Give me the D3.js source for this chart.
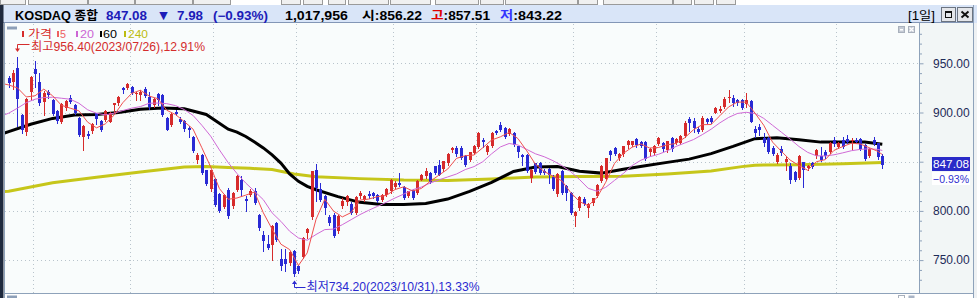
<!DOCTYPE html>
<html>
<head>
<meta charset="utf-8">
<script src="https://cdn.jsdelivr.net/npm/d3@7"></script>
<style>
  html, body { margin: 0; padding: 0; background: #fff; overflow: hidden; }
  svg { display: block; font-family: "Liberation Sans", "Noto Sans CJK KR", sans-serif; }
</style>
</head>
<body>
<svg id="chart" width="977" height="298"></svg>
<script>
// KOSDAQ daily candles, oldest first
var opens = [
  935,931.4,944.9,897.6,879.7,921.3,944.2,930.7,911.1,921.3,
  912.8,901.6,890.8,904.4,914.5,907.7,894.2,875,878.3,880.7,
  899.3,891.8,892.5,890.8,907.7,909.4,924.6,925.3,925.6,918.5,
  917.9,923.6,915.5,907.7,918.6,917.9,894.9,887.5,901,893.2,
  891.5,884,875,851.3,857.1,841.9,822.6,832.4,817.5,804,
  821.6,804.7,821.6,831.7,812.5,816.5,819.9,796.2,775.9,766.5,
  765.8,787.8,751.4,750.7,746.6,759,743.9,753.4,777.6,793.5,
  841.9,822.3,814.9,793.5,796.2,779.4,804.7,808.8,807.4,798,
  814.9,811.5,817.5,818.2,815.9,811.5,816.5,819.9,824.3,828.4,
  824,815.5,821,818.2,831.7,835.1,838.5,845.2,846.9,842.5,
  848.7,861.4,864,863.8,856,851.3,858.7,864.8,872.3,859.4,
  866.2,880.8,887.6,884.2,878,879.1,865.5,857,857,833.2,
  848.5,848.5,841,842.4,834.2,817.2,840.7,825.4,818,794.9,
  802.6,812.5,802.6,807.7,815.5,830.5,832.2,860.4,863.8,853.6,
  858,867.2,867.2,873,869.6,870,859.4,858.7,868.2,868.9,
  861.8,874,868.6,869.2,876.3,893,891,883.5,882,893.2,
  894.5,899.5,901.5,905.3,914.3,914.5,912.8,912.8,908.5,912,
  883.2,885.7,873.8,873.8,864,849.8,862.7,849.2,845.8,840,
  833,849.2,843.4,848.5,855.5,855.9,860.3,860.3,872.5,865,
  872.1,873.3,870.8,872.5,872.8,867,855.9,872.1,868.8,856.22
];
var highs = [
  937,943.2,956.4,898.5,914.5,937.5,952.3,939.8,921.5,923,
  914,902.7,909.4,913,917.9,909,895,887.5,880.7,889,
  900,892.5,902.5,901,910,917,925.6,929.7,926.5,921.3,
  923,926.3,921.3,914.5,919.6,918.9,895.5,899.3,902.7,895.9,
  892,885.8,876,858.7,858,842,842,833,818,817,
  823,819,836.5,835,814.9,822,823,797,779.3,776,
  786,788.5,760.8,760.8,759,760,745,773.5,782.5,841,
  847.6,828.4,816.5,796.2,798,796,813,816.5,809,815.5,
  819.9,816,819.9,819,817,817.5,823,832.4,830,838.5,
  825,820.5,822,831.5,837.5,843.5,840,846,852,851,
  859,865,865.5,866,857,860,867,880,874,867,
  880,882,890.7,885,884,880,866,858,858,843,
  849,850,843,844,836,838.5,842,826,819,800,
  815,814,808,813.5,827,846.5,854,861.5,864.5,859,
  866,872.3,871.5,874,871,871,864,866.5,875,869.6,
  871.5,875,874,877,891,895,894,885,896,894.5,
  896,906,906.3,915.5,922.9,918,914,914,920,913,
  885.8,888.5,879,875,866,858.5,866,855.4,848.6,841,
  857,850,847,850,863,865,862,870,874.9,870,
  874.9,877.3,874,874,874,868,864,874.9,869.5,857.51
];
var lows = [
  926,923.6,885.8,879,877.3,913,926.3,907.7,897.6,915,
  897.6,889.2,889.2,903,909.4,898,876,862.2,874,879,
  888.5,881,891,890,901,908,920.2,923.6,918.5,912.8,
  912.8,916.2,903.3,906,907.7,896,882,886,897.6,889.8,
  880.7,875,860,848.6,837,826,820,805,799,803,
  793,803,820.5,815.5,799.6,815,807,781,759,761.4,
  750,769,739.9,738.8,745,734.2,737,752,772,792,
  809.8,809.8,797.3,786,773.5,778,803,806.4,797,797,
  813,810,813.2,813,809,810.5,815.5,818,823,825,
  812,814.5,812.5,817.5,831,833,828,837,836,841,
  847,860,856,852.5,846,850.5,858,864,865,858,
  865,878,881,874,877,866,855,847,840,829,
  839,838,837,828,821,815.5,817,811,797,785,
  801,806,794,806,814,829,831,852,857,852,
  856,864,866,865,865,852,856,857,867,861,
  860,861,868,868,875,880.8,880,879,881,889,
  889,899,901,905,910.5,906.5,908,904,906,890,
  875,877.3,866,859,857,849,857,842,828.5,830,
  832,824,842,844,854,851,853.6,859,866.2,864,
  864,868.9,862.8,869,862,852,855,867.2,853,843.22
];
var closes = [
  930,939.8,913.5,882.4,913.5,936.5,939.2,909.4,920.2,917.9,
  898.3,891.8,908.7,912.1,911.1,899.3,877.3,886.5,876.3,888.5,
  893.2,882.4,901.6,900,909.4,916.2,923,928.7,919.6,920.2,
  921.3,916.9,905.4,913.5,912.8,897.6,882.4,898.6,898.3,890.8,
  883.4,882.4,860.5,856.4,838.5,827.3,841.2,806.4,800.3,816.5,
  794.6,818.2,835.8,821.6,809.8,820.6,808.1,782.8,769.2,762.4,
  785.1,770.3,743.9,746.3,758,735.5,738.9,772.6,781.6,840.2,
  823.3,810.8,803,787.8,774.3,794.6,809.8,814.9,798,813.9,
  818.2,814.9,814.9,814.9,809.8,816.5,822.3,831.7,828.4,826.7,
  813.2,819.9,813.2,830.7,836.8,840.2,829,838.5,836.8,850.3,
  858.1,863.8,858,853.6,846.9,859.4,866.2,879,869.6,866.2,
  879.1,879.1,882.5,875,883.2,867.2,859.4,854.6,841,841.7,
  840,839,838.3,836.6,822,837.6,818,818,798.2,799.2,
  814.5,807,807,812.8,826.4,845.8,853.6,857,858,858,
  865.5,871.3,870.6,866.5,866.2,853,863.1,865.5,874,862.8,
  871,862.5,872.9,876,889.5,889,884,880,894.5,890,
  890,905,903.5,914,916,910,909.3,904.5,912.8,890.7,
  879.6,882.3,869.5,859.8,858.2,857,858.6,853,831.8,831.9,
  855.9,841.3,845.7,845,862,851.8,856,869.5,868.1,868.7,
  864.7,869.9,872.4,869.9,862.8,853.1,863.1,868.4,855.06,847.08
];
var volume = 1017956;
var highDate = "2023/07/26";
var lowDate = "2023/10/31";
// candle index of the first trading day of each month
var monthStarts = [6, 28, 47, 66, 88, 107, 129, 148, 168, 189];
var priceTicks = [750, 800, 850, 900, 950];

// moving averages as [candle index, value]
var ma5 = [[-1,929],[0,928],[2,925],[4,915.8],[6,917],[8,923.8],[10,917],[12,907.4],[14,904.4],[16,901.7],[18,890.1],
  [20,884.4],[22,888.4],[24,897.3],[26,910],[28,919.4],[30,922.6],[32,916.7],[34,914],[36,902.3],[38,897.9],
  [40,890.7],[42,883.1],[44,864.2],[46,844.8],[48,822.7],[50,811.8],[52,813.1],[54,816],[56,819.2],[58,798.1],
  [60,781.5],[62,766.2],[64,760.7],[66,744.5],[68,757.3],[70,791.3],[72,811.8],[74,799.8],[76,793.9],[78,798.3],
  [80,811],[82,812],[84,814.5],[86,815.7],[88,821.7],[90,824.5],[92,820.3],[94,822.8],[96,830],[98,836.3],
  [100,842.5],[102,853.4],[104,856.1],[106,856.8],[108,864.2],[110,872],[112,875.3],[114,879.8],[116,873.5],[118,861.1],
  [120,847.3],[122,840],[124,835.2],[126,830.5],[128,818.8],[130,809.6],[132,805.2],[134,813.5],[136,829.1],[138,848.2],
  [140,858.4],[142,864.7],[144,868],[146,863.9],[148,864.4],[150,867.2],[152,868.5],[154,874.4],[156,882.5],[158,887.6],
  [160,887.8],[162,896.7],[164,905.7],[166,910.6],[168,910.5],[170,899.4],[172,887],[174,869.9],[176,860.6],[178,851.7],
  [180,846.2],[182,841.3],[184,850],[186,852.1],[188,861.5],[190,865.4],[192,868.8],[194,868],[196,864.3],[198,860.5],[199,857.3]];
var ma20 = [[-1,897.6],[0,899.3],[2,904.4],[4,910],[6,913.5],[8,915.2],[10,915.5],[12,914.5],[14,913.5],[16,909.4],[18,902.7],
  [20,899.3],[22,897.6],[24,899.3],[26,902],[28,904.4],[30,906],[32,909.4],[34,909.6],[36,909],[38,907],
  [40,903],[42,897],[44,887],[46,876],[48,862],[50,849],[52,838],[54,828.3],[56,819.9],[58,811.4],
  [60,798],[62,789.4],[64,779.3],[66,772.5],[68,770.2],[70,776],[72,781],[74,781.5],[76,786],[78,791.1],
  [80,796.2],[82,800.6],[84,804.6],[86,808.7],[88,813.1],[90,817.1],[92,821.5],[94,824.2],[96,828.3],[98,831.5],
  [100,834.5],[102,837.5],[104,842],[106,845],[108,850],[110,858],[112,865],[114,868.5],[116,867],[118,862.5],
  [120,858],[122,855],[124,851],[126,846],[128,840],[130,832],[132,823],[134,820],[136,824],[138,831],
  [140,838],[142,846],[144,851.5],[146,855],[148,857.5],[150,861],[152,865.5],[154,869],[156,872.5],[158,877.5],
  [160,883],[162,889.5],[164,895],[166,899],[168,900.2],[170,899],[172,894],[174,887],[176,880],[178,873],
  [180,865.5],[182,859.5],[184,856],[186,855.8],[188,857],[190,859],[192,861.2],[194,862.5],[196,863.1],[198,862.5],[199,861.4]];
var ma60 = [[-1,879],[0,880.5],[5,888],[10,894],[15,897.5],[20,898],[25,900],[30,903.3],[35,904.6],[40,903.7],[45,898],
  [50,883],[52,880],[54,875.6],[56,870],[58,864],[60,857],[62,848.6],[64,837.5],[66,830],[68,825],[70,821.5],
  [75,814.5],[80,808.7],[85,806.6],[90,806.5],[95,807.6],[100,812],[105,819.9],[110,829],[115,840.1],[120,844.5],
  [125,845.2],[130,840.3],[135,838.4],[140,842.3],[145,845.9],[150,849.3],[155,852.6],[160,858.2],[165,865.5],[170,873.4],
  [175,874.3],[180,872.2],[185,869.9],[190,869.9],[195,870],[199,867.8]];
var ma240 = [[-1,819.6],[0,820],[10,828.5],[20,834.3],[30,839.5],[40,844.5],[45,845],[50,844],[55,843.3],[60,842],
  [65,837.5],[70,834.7],[80,832.8],[90,831.3],[100,831],[110,832.5],[120,834.5],[130,835],[140,835.2],[150,837.5],
  [160,840.5],[167,845],[170,846.5],[180,847],[190,848],[199,849.3]];

addEventListener("load", function () {
  draw();
});

function draw() {
  var svg = d3.select("#chart");
  var n = closes.length;
  var last = n - 1;
  var x = d3.scaleLinear().domain([0, last]).range([8.7, 882.3]);
  var y = d3.scaleLinear().domain([750, 950]).range([260.1, 63.3]);
  var fmt = d3.format(".2f");
  var up = "#d62b2b", down = "#2a2ad4", frame = "#8ea2ba";
  var close = closes[last];
  var ly = Math.round(y(close));

  // toolbar strip at the very top
  var tools = [[0,25],[28,87],[88,134],[135,192],[193,230],[281,300],[303,322],[328,345],[348,388],
    [390,430],[435,478],[480,503],[505,577],[578,597],[603,672],[673,691],[694,713],[716,735]];
  svg.selectAll("rect.tool").data(tools).enter().append("rect")
    .attr("x", function (d) { return d[0] + 0.5; })
    .attr("y", -3.5)
    .attr("width", function (d) { return d[1] - d[0]; })
    .attr("height", 8)
    .attr("fill", "#f0f0f0")
    .attr("stroke", "#9a9a9a");

  // title bar
  svg.append("rect").attr("x", 0).attr("y", 5).attr("width", 977).attr("height", 18).attr("fill", "#d9e5f8");
  svg.append("line").attr("x1", 0).attr("x2", 974).attr("y1", 22.5).attr("y2", 22.5).attr("stroke", "#8396b6");

  // plot and axis panels
  svg.append("rect").attr("x", 5).attr("y", 23).attr("width", 914).attr("height", 270).attr("fill", "#f9fcfc");
  svg.append("rect").attr("x", 919).attr("y", 23).attr("width", 54).attr("height", 270).attr("fill", "#f2f6f6");
  svg.append("rect").attr("x", 973).attr("y", 23).attr("width", 4).attr("height", 275).attr("fill", "#eef1f3");
  svg.append("rect").attr("x", 0).attr("y", 5).attr("width", 3.5).attr("height", 293).attr("fill", "#1f2a3e");
  svg.append("line").attr("x1", 4.5).attr("x2", 4.5).attr("y1", 23).attr("y2", 298).attr("stroke", frame);
  svg.append("line").attr("x1", 919.5).attr("x2", 919.5).attr("y1", 23).attr("y2", 293).attr("stroke", frame);
  svg.append("line").attr("x1", 973.5).attr("x2", 973.5).attr("y1", 5).attr("y2", 298).attr("stroke", frame);
  svg.append("line").attr("x1", 4).attr("x2", 974).attr("y1", 293.5).attr("y2", 293.5).attr("stroke", frame);

  // grid
  var grid = svg.append("g").attr("stroke", "#b9c4cc").attr("stroke-dasharray", "1,3");
  grid.selectAll("line.h").data(priceTicks).enter().append("line")
    .attr("x1", 5).attr("x2", 919)
    .attr("y1", function (d) { return Math.round(y(d)) + 0.5; })
    .attr("y2", function (d) { return Math.round(y(d)) + 0.5; });
  grid.selectAll("line.v").data(monthStarts).enter().append("line")
    .attr("x1", function (d) { return Math.round(x(d) - 2) + 0.5; })
    .attr("x2", function (d) { return Math.round(x(d) - 2) + 0.5; })
    .attr("y1", 24).attr("y2", 293);

  // price axis; the label under the last price tag is hidden by it
  var minor = d3.range(730, 1000, 10).filter(function (v) {
    return priceTicks.indexOf(v) < 0 && y(v) > 24 && y(v) < 292;
  });
  var gMinor = svg.append("g").attr("transform", "translate(919.5,0)")
    .call(d3.axisRight(y).tickValues(minor).tickSize(2.5).tickFormat(""));
  gMinor.select(".domain").remove();
  gMinor.selectAll("line").attr("stroke", frame);
  var gAxis = svg.append("g").attr("transform", "translate(919.5,0)")
    .call(d3.axisRight(y).tickValues(priceTicks).tickSize(4).tickPadding(9.5).tickFormat(fmt));
  gAxis.select(".domain").remove();
  gAxis.attr("font-family", null).attr("font-size", 12);
  gAxis.selectAll("line").attr("stroke", frame);
  gAxis.selectAll("text").attr("fill", "#1e2b58");
  gAxis.selectAll(".tick").filter(function (d) { return Math.abs(y(d) - ly) < 22; })
    .select("text").remove();

  // series
  var clip = svg.append("defs").append("clipPath").attr("id", "plotclip");
  clip.append("rect").attr("x", 5).attr("y", 23).attr("width", 914).attr("height", 270);
  var plot = svg.append("g").attr("clip-path", "url(#plotclip)");
  var line = d3.line()
    .x(function (d) { return x(d[0]); })
    .y(function (d) { return y(d[1]); });

  plot.append("path").datum(ma240).attr("d", line)
    .attr("fill", "none").attr("stroke", "#c6c61a").attr("stroke-width", 3);
  plot.append("path").datum(ma60).attr("d", line)
    .attr("fill", "none").attr("stroke", "#000").attr("stroke-width", 3);

  var idx = d3.range(n);
  var color = function (i) { return closes[i] >= opens[i] ? up : down; };
  plot.selectAll("line.wick").data(idx).enter().append("line")
    .attr("x1", function (i) { return Math.round(x(i)) + 0.5; })
    .attr("x2", function (i) { return Math.round(x(i)) + 0.5; })
    .attr("y1", function (i) { return Math.round(y(highs[i])); })
    .attr("y2", function (i) { return Math.round(y(lows[i])) + 1; })
    .attr("stroke", color);
  plot.selectAll("rect.body").data(idx).enter().append("rect")
    .attr("x", function (i) { return Math.round(x(i)) - 1; })
    .attr("width", 3)
    .attr("y", function (i) { return Math.round(y(Math.max(opens[i], closes[i]))); })
    .attr("height", function (i) {
      var top = Math.round(y(Math.max(opens[i], closes[i])));
      var bot = Math.round(y(Math.min(opens[i], closes[i])));
      return Math.max(1, bot - top);
    })
    .attr("fill", color);

  plot.append("path").datum(ma20).attr("d", line)
    .attr("fill", "none").attr("stroke", "#d06ad6").attr("stroke-width", 1);
  plot.append("path").datum(ma5).attr("d", line)
    .attr("fill", "none").attr("stroke", "#f05050").attr("stroke-width", 1);

  // high / low notes
  var hi = d3.maxIndex(highs), lo = d3.minIndex(lows);
  var hx = Math.round(x(hi)) + 0.5;
  svg.append("path").attr("d", "M" + (hx + 12) + ",44.5H" + hx + "V49")
    .attr("fill", "none").attr("stroke", "#d42c2c");
  svg.append("path").attr("d", "M" + (hx - 2.5) + ",48.5L" + (hx + 2.5) + ",48.5L" + hx + ",52Z").attr("fill", "#d42c2c");
  svg.append("text").attr("x", 31).attr("y", 51).attr("fill", "#d42c2c").attr("font-size", 12)
    .attr("textLength", 174).attr("lengthAdjust", "spacingAndGlyphs")
    .text("최고" + fmt(highs[hi]) + "(" + highDate + ")," + fmt((highs[hi] - close) / close * 100) + "%");
  var lx = Math.round(x(lo)) + 0.5;
  svg.append("path").attr("d", "M" + lx + ",283V287.5H" + (lx + 11))
    .attr("fill", "none").attr("stroke", "#2a2ad0");
  svg.append("path").attr("d", "M" + (lx - 2.5) + ",284L" + (lx + 2.5) + ",284L" + lx + ",280.5Z").attr("fill", "#2a2ad0");
  svg.append("text").attr("x", 306.5).attr("y", 290.5).attr("fill", "#2a2ad0").attr("font-size", 12)
    .attr("textLength", 173).attr("lengthAdjust", "spacingAndGlyphs")
    .text("최저" + fmt(lows[lo]) + "(" + lowDate + ")," + fmt((close - lows[lo]) / close * 100) + "%");

  // legend
  var legend = [
    {t: "가격", c: "#d62b2b", bx: 22, tx: 28, w: 24},
    {t: "5", c: "#ee6060", bx: 57, tx: 60, w: 6},
    {t: "20", c: "#cc66d4", bx: 76, tx: 80, w: 14},
    {t: "60", c: "#000", bx: 100, tx: 103, w: 14},
    {t: "240", c: "#bcbc10", bx: 124, tx: 128, w: 20}
  ];
  svg.append("rect").attr("x", 7).attr("y", 26.5).attr("width", 10).attr("height", 3).attr("fill", "#8d9fb8");
  svg.selectAll("rect.leg").data(legend).enter().append("rect")
    .attr("x", function (d) { return d.bx; }).attr("y", 31).attr("width", 2).attr("height", 6)
    .attr("fill", function (d) { return d.c; });
  svg.selectAll("text.leg").data(legend).enter().append("text")
    .attr("x", function (d) { return d.tx; }).attr("y", 38)
    .attr("font-size", 11)
    .attr("textLength", function (d) { return d.w; }).attr("lengthAdjust", "spacingAndGlyphs")
    .attr("fill", function (d) { return d.c; })
    .text(function (d) { return d.t; });

  // panel buttons
  svg.append("rect").attr("x", 898.5).attr("y", 26.5).attr("width", 6).attr("height", 6).attr("fill", "#c4cad4").attr("stroke", "#a8b0bc");
  svg.append("rect").attr("x", 900).attr("y", 29).attr("width", 3).attr("height", 1.5).attr("fill", "#fff");
  svg.append("rect").attr("x", 908.5).attr("y", 26.5).attr("width", 6).attr("height", 6).attr("fill", "#c4cad4").attr("stroke", "#a8b0bc");
  svg.append("path").attr("d", "M909.5,27.5L913.5,31.5M913.5,27.5L909.5,31.5").attr("stroke", "#fff").attr("stroke-width", 1.2);
  svg.append("rect").attr("x", 898.5).attr("y", 295.5).attr("width", 6).attr("height", 5).attr("fill", "#fff").attr("stroke", "#a8b0bc");
  svg.append("rect").attr("x", 908.5).attr("y", 295.5).attr("width", 6).attr("height", 5).attr("fill", "#a8b4c6");
  svg.append("rect").attr("x", 7).attr("y", 295.5).attr("width", 10).attr("height", 3).attr("fill", "#8d9fb8");

  // last price tag
  var chg = close - closes[last - 1];
  var pct = chg / closes[last - 1] * 100;
  svg.append("rect").attr("x", 932).attr("y", ly - 8).attr("width", 38).attr("height", 14).attr("fill", "#2a2ac8");
  svg.append("text").attr("x", 933).attr("y", ly + 3).attr("fill", "#fff").attr("font-size", 11.5)
    .attr("textLength", 36).attr("lengthAdjust", "spacingAndGlyphs").text(fmt(close));
  svg.append("rect").attr("x", 932).attr("y", ly + 7).attr("width", 38).attr("height", 13).attr("fill", "#fff");
  svg.append("text").attr("x", 933).attr("y", ly + 18).attr("fill", "#3030d0").attr("font-size", 11.5)
    .attr("textLength", 36).attr("lengthAdjust", "spacingAndGlyphs").text(fmt(pct) + "%");

  // title texts
  var blue = "#1c1cb8";
  var title = [
    {t: "KOSDAQ 종합", x: 15, w: 83, c: "#000"},
    {t: fmt(close), x: 106, w: 41, c: blue},
    {t: fmt(Math.abs(chg)), x: 177, w: 26, c: blue},
    {t: "(" + fmt(pct) + "%)", x: 213, w: 55, c: blue},
    {t: d3.format(",")(volume), x: 285, w: 63, c: "#000"},
    {t: "시:" + fmt(opens[last]), x: 362, w: 60, c: "#000"}
  ];
  svg.selectAll("text.title").data(title).enter().append("text")
    .attr("x", function (d) { return d.x; }).attr("y", 19.5)
    .attr("font-size", 12).attr("font-weight", "bold")
    .attr("textLength", function (d) { return d.w; }).attr("lengthAdjust", "spacingAndGlyphs")
    .attr("fill", function (d) { return d.c; })
    .text(function (d) { return d.t; });

  // high and low of the day, with a coloured first glyph
  var dayHL = [
    {k: "고", kc: "#e00000", v: highs[last], x: 431, w: 59},
    {k: "저", kc: "#3434ff", v: lows[last], x: 500, w: 62}
  ];
  var hl = svg.selectAll("text.hl").data(dayHL).enter().append("text")
    .attr("x", function (d) { return d.x; }).attr("y", 19.5)
    .attr("font-size", 12).attr("font-weight", "bold").attr("fill", "#000")
    .attr("textLength", function (d) { return d.w; }).attr("lengthAdjust", "spacingAndGlyphs");
  hl.append("tspan").attr("fill", function (d) { return d.kc; }).text(function (d) { return d.k; });
  hl.append("tspan").text(function (d) { return ":" + fmt(d.v); });

  svg.append("text").attr("x", 163.5).attr("y", 19).attr("font-size", 11)
    .attr("font-family", "DejaVu Sans").attr("text-anchor", "middle")
    .attr("fill", blue).text(chg < 0 ? "▼" : "▲");
  svg.append("text").attr("x", 908).attr("y", 19.5).attr("font-size", 12)
    .attr("textLength", 27).attr("lengthAdjust", "spacingAndGlyphs").text("[1일]");

  // window buttons
  svg.append("rect").attr("x", 941.5).attr("y", 7.5).attr("width", 14).attr("height", 14).attr("fill", "#e4e6ea").attr("stroke", "#6c7480");
  svg.append("rect").attr("x", 945.5).attr("y", 11.5).attr("width", 6).attr("height", 6).attr("fill", "none").attr("stroke", "#111");
  svg.append("rect").attr("x", 945).attr("y", 11).attr("width", 7).attr("height", 2).attr("fill", "#111");
  svg.append("rect").attr("x", 957.5).attr("y", 7.5).attr("width", 15).attr("height", 14).attr("fill", "#e4e6ea").attr("stroke", "#6c7480");
  svg.append("path").attr("d", "M961.5,11.5L968.5,17.5M968.5,11.5L961.5,17.5").attr("stroke", "#111").attr("stroke-width", 2);
}
</script>
</body>
</html>
